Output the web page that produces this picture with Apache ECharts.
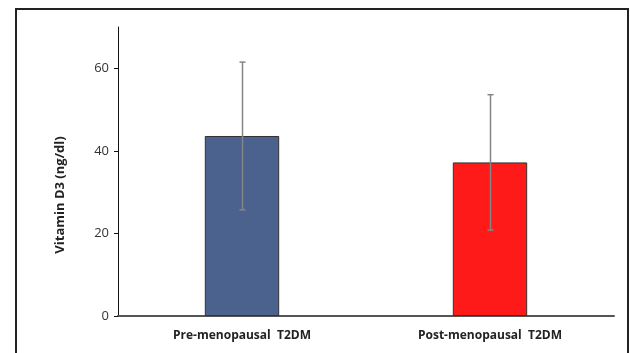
<!DOCTYPE html>
<html><head><meta charset="utf-8">
<script src="https://cdn.jsdelivr.net/npm/echarts@6/dist/echarts.min.js"></script>
<style>html,body{margin:0;padding:0;background:#fff}#c{width:630px;height:353px}</style>
</head><body><div id="c"></div>
<script>
const categories = ['Pre-menopausal  T2DM', 'Post-menopausal  T2DM'];
const means = [43.6, 37.2];
const sds = [17.9, 16.4];
const barColors = ['#4B628F', '#FF1A1A'];
const yTicks = [0, 20, 40, 60];

const chart = echarts.init(document.getElementById('c'), null, {renderer: 'canvas'});
const font = '"Open Sans", "DejaVu Sans", sans-serif';
chart.setOption({
  animation: false,
  grid: {left: 118, right: 16, top: 27, bottom: 37},
  graphic: [
    {type: 'rect', shape: {x: 16, y: 9, width: 612, height: 360}, style: {fill: 'none', stroke: '#222', lineWidth: 2}, z: 100},
    {type: 'text', x: 60, y: 195, rotation: Math.PI / 2,
     style: {text: 'Vitamin D3 (ng/dl)', font: 'bold 13px ' + font, fill: '#222', textAlign: 'center', textVerticalAlign: 'middle'}}
  ],
  xAxis: {
    type: 'category', data: categories,
    axisLine: {lineStyle: {color: '#555', width: 2}},
    axisTick: {show: false},
    axisLabel: {color: '#222', fontFamily: font, fontWeight: 'bold', fontSize: 12, margin: 14}
  },
  yAxis: {
    type: 'value', min: 0, max: 70, interval: 20,
    splitLine: {show: false},
    axisLine: {show: true, lineStyle: {color: '#111', width: 1}},
    axisTick: {show: true, length: 4, lineStyle: {color: '#111'}, customValues: yTicks},
    axisLabel: {color: '#333', fontFamily: font, fontSize: 13, margin: 9, customValues: yTicks}
  },
  series: [
    {
      type: 'bar', barWidth: '30%',
      data: means.map((v, i) => ({value: v, itemStyle: {color: barColors[i]}})),
      itemStyle: {borderColor: '#333', borderWidth: 1}
    },
    {
      type: 'custom', z: 10,
      data: means.map((m, i) => [i, m - sds[i], m + sds[i]]),
      renderItem: function (params, api) {
        const lo = api.coord([api.value(0), api.value(1)]);
        const hi = api.coord([api.value(0), api.value(2)]);
        const x = Math.round(lo[0]) + 0.5, hw = 3;
        const st = {stroke: '#858585', lineWidth: 1.5};
        return {type: 'group', children: [
          {type: 'line', shape: {x1: x, y1: lo[1], x2: x, y2: hi[1]}, style: st},
          {type: 'line', shape: {x1: x - hw, y1: lo[1], x2: x + hw, y2: lo[1]}, style: st},
          {type: 'line', shape: {x1: x - hw, y1: hi[1], x2: x + hw, y2: hi[1]}, style: st}
        ]};
      }
    }
  ]
});
</script></body></html>
